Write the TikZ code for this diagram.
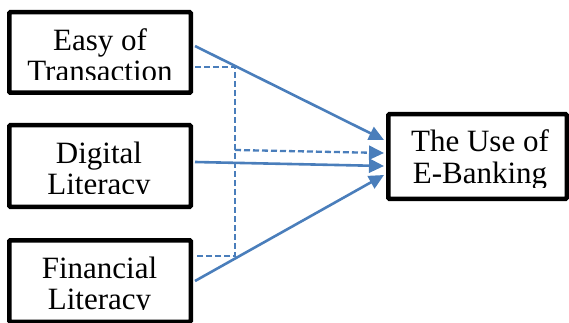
\documentclass[tikz,border=0pt]{standalone}
\usepackage{fontspec}
\setmainfont{Liberation Serif}
\usepackage{xcolor}
\definecolor{LinkBlue}{HTML}{4A7EBB}
\usetikzlibrary{arrows.meta, positioning, calc}

\begin{document}
\begin{tikzpicture}[x=1pt, y=-1pt,
    factor/.style={draw=black, line width=4.5pt, rounded corners=1pt, inner sep=0pt,
        minimum width=181.5pt, minimum height=81.5pt},
    label/.style={inner sep=0pt, anchor=base, font=\fontsize{31}{31}\selectfont},
    path/.style={draw=LinkBlue, line width=2.6pt},
    guess/.style={draw=LinkBlue, line width=2.3pt, dash pattern=on 6pt off 3pt},
    tip/.style={-{Triangle[length=15pt, width=14pt]}}]
    \useasboundingbox (0,0) rectangle (569,323);

    % Independent variables
    \node[factor, minimum height=80.5pt] (easy) at (100,52.5) {};
    \node[factor] (digital) at (100,166) {};
    \node[factor] (financial) at (100,281) {};

    % Dependent variable
    \node[factor, minimum width=178.5pt, minimum height=84.5pt] (ebank) at (477.5,156.5) {};

    % Texts (cut off at the bottom as in the original)
    \begin{scope}
        \clip (7,10) rectangle (193,80);
        \node[label] (easyA) at (100,51) {Easy of};
        \node[label] (easyB) at (100,82) {Transaction};
    \end{scope}
    \begin{scope}
        \clip (7,123) rectangle (193,193);
        \node[label] (digitalA) at (99,163) {Digital};
        \node[label] (digitalB) at (99,194) {Literacy};
    \end{scope}
    \begin{scope}
        \clip (7,238) rectangle (193,309);
        \node[label] (financialA) at (99.5,278) {Financial};
        \node[label] (financialB) at (99.5,309) {Literacy};
    \end{scope}
    \begin{scope}
        \clip (386,112) rectangle (569,187);
        \node[label] (ebankA) at (480,152) {The Use of};
        \node[label] (ebankB) at (480,183) {E-Banking};
    \end{scope}

    % Moderating bracket
    \coordinate (bottom) at (235,256);
    \coordinate (mid) at (235,150);
    \draw[guess] ([xshift=2pt, yshift=-14.5pt]easy.east) -| (bottom)
        -- ([xshift=2pt, yshift=25pt]financial.east);
    \draw[guess, tip] (mid) -- ([xshift=-2pt, yshift=3.5pt]ebank.west);

    % Direct effects
    \draw[path, tip] ([xshift=2pt, yshift=6.5pt]easy.east) -- ([xshift=-2pt, yshift=16.5pt]ebank.west);
    \draw[path, tip] ([xshift=2pt, yshift=4pt]digital.east) -- ([xshift=-2pt, yshift=-9.5pt]ebank.west);
    \draw[path, tip] ([xshift=2pt]financial.east) -- ([xshift=-2pt, yshift=-18.5pt]ebank.west);
\end{tikzpicture}
\end{document}
